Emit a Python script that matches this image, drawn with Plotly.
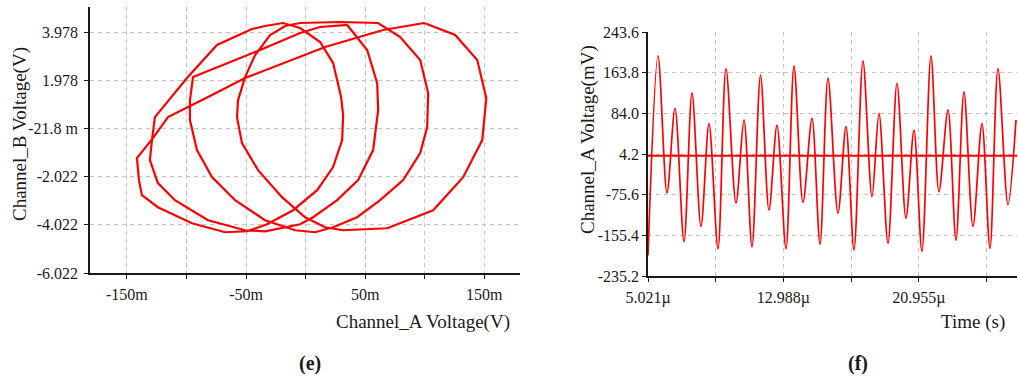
import plotly.graph_objects as go

# ---------------- Panel (e): Channel_B vs Channel_A (X-Y trace) ----------------
chan_a_v = [0.0996, 0.0651, 0.0164, -0.0508, -0.0819, -0.1155, -0.1282, -0.1416,
            -0.1399, -0.1374, -0.1240, -0.0954, -0.0676, -0.0492,
            -0.0324, -0.0105, 0.0097, 0.0231, 0.0307, 0.0315, 0.0298, 0.0231,
            0.0122, -0.0046, -0.0189,
            -0.0340, -0.0450, -0.0744, -0.0996, -0.1265,
            -0.1290, -0.1307, -0.1240, -0.1097, -0.0819, -0.0508, -0.0340,
            -0.0046, 0.0063, 0.0265, 0.0441, 0.0567, 0.0609, 0.0601, 0.0517, 0.0349,
            0.0122, -0.0046, -0.0382, -0.0735, -0.0945,
            -0.0971, -0.0971, -0.0912, -0.0786, -0.0592, -0.0340, -0.0088, 0.0080,
            0.0231, 0.0433, 0.0626, 0.0819, 0.0962, 0.1021, 0.1029, 0.0962, 0.0794, 0.0609,
            0.0290, -0.0046, -0.0172,
            -0.0298, -0.0424, -0.0508, -0.0567, -0.0576, -0.0534, -0.0399, -0.0198,
            -0.0004, 0.0164, 0.0315,
            0.0685, 0.1071, 0.1323, 0.1483, 0.1517, 0.1441, 0.1256, 0.0996]
chan_b_v = [4.365, 4.074, 3.367, 2.078, 1.288, 0.456, -0.417, -1.249,
            -2.164, -2.788, -3.288, -3.954, -4.329, -4.288,
            -3.996, -3.413, -2.580, -1.623, -0.500, 0.540, 1.288, 2.701,
            3.575, 4.157, 4.365,
            4.240, 4.115, 3.450, 2.078, 0.456,
            -0.500, -1.332, -2.289, -2.996, -3.829, -4.246, -4.288,
            -3.996, -3.704, -2.996, -2.164, -0.916, 0.747, 1.870, 3.242, 4.282,
            4.198, 3.949, 3.242, 2.535, 2.119,
            1.163, 0.331, -0.916, -2.039, -2.996, -3.829, -4.246, -4.329,
            -4.121, -3.704, -2.996, -2.164, -1.041, 0.040, 1.454, 2.826, 3.783, 4.365,
            4.406, 4.365, 4.240,
            3.866, 3.034, 2.119, 1.163, 0.456, -0.625, -1.748, -2.871,
            -3.704, -4.121, -4.246,
            -4.163, -3.413, -2.039, -0.500, 1.246, 2.826, 3.866, 4.365]

e_xticks = [-0.15, -0.10, -0.05, 0.0, 0.05, 0.10, 0.15]
e_xtext = ["-150m", "", "-50m", "", "50m", "", "150m"]
e_yticks = [3.978, 1.978, -0.0218, -2.022, -4.022, -6.022]
e_ytext = ["3.978", "1.978", "-21.8 m", "-2.022", "-4.022", "-6.022"]

# ---------------- Panel (f): Channel_A voltage vs time ----------------
time_us = [5.021, 5.609, 6.138, 6.609, 7.138, 7.608, 8.137, 8.608, 9.137, 9.607,
           10.195, 10.666, 11.136, 11.636, 12.136, 12.606, 13.135, 13.606, 14.135,
           14.664, 15.135, 15.605, 16.193, 16.663, 17.134, 17.663, 18.192, 18.604,
           19.133, 19.662, 20.191, 20.662, 21.13, 21.661, 22.132, 22.661, 23.131,
           23.602, 24.131, 24.660, 25.130, 25.601, 26.189, 26.66]
chan_a_mv = [-195, 197, -72, 94, -168, 124, -138, 64, -182, 172,
             -92, 71, -178, 159, -106, 61, -182, 177, -91,
             74, -173, 153, -112, 58, -184, 187, -80, 84,
             -171, 143, -122, 51, -187, 197, -70, 91, -165,
             126, -138, 64, -181, 172, -95, 71]
baseline_mv = 0.8
time_end_us = 26.72

f_xticks = [5.021, 9.0045, 12.988, 16.9715, 20.955, 24.9385]
f_xtext = ["5.021\u00b5", "", "12.988\u00b5", "", "20.955\u00b5", ""]
f_yticks = [243.6, 163.8, 84.0, 4.2, -75.6, -155.4, -235.2]
f_ytext = ["243.6", "163.8", "84.0", "4.2", "-75.6", "-155.4", "-235.2"]

RED = "#ff0000"
INK = "#1a1a1a"
GRID = "#c4c4c4"
FONT = "Liberation Serif, Times New Roman, serif"
W, H = 1018, 378

fig = go.Figure()
fig.add_trace(go.Scatter(x=chan_a_v, y=chan_b_v, mode="lines",
                         line=dict(color=RED, width=2.2),
                         xaxis="x", yaxis="y", showlegend=False))
fig.add_trace(go.Scatter(x=time_us, y=chan_a_mv, mode="lines",
                         line=dict(color=RED, width=1.7, shape="spline", smoothing=0.9),
                         xaxis="x2", yaxis="y2", showlegend=False))
fig.add_trace(go.Scatter(x=[min(time_us), time_end_us], y=[baseline_mv, baseline_mv], mode="lines",
                         line=dict(color=RED, width=2),
                         xaxis="x2", yaxis="y2", showlegend=False))

axis_common = dict(showline=True, linecolor=INK, linewidth=1.6, ticks="outside",
                   ticklen=4, tickcolor=INK, showgrid=True, gridcolor=GRID,
                   griddash="4px,4px", gridwidth=1, zeroline=False, automargin=False,
                   tickfont=dict(family=FONT, size=16, color=INK), tickmode="array")

fig.update_layout(
    width=W, height=H, margin=dict(l=0, r=0, t=0, b=0, autoexpand=False),
    paper_bgcolor="white", plot_bgcolor="white",
    xaxis=dict(domain=[90 / W, 520 / W], range=[-0.181, 0.180], anchor="y",
               tickvals=e_xticks, ticktext=e_xtext, ticklabelstandoff=2, **axis_common),
    yaxis=dict(domain=[1 - 273 / H, 1 - 7 / H], range=[-6.022, 5.03], anchor="x",
               tickvals=e_yticks, ticktext=e_ytext, ticklabelstandoff=3, **axis_common),
    xaxis2=dict(domain=[648 / W, 1017 / W], range=[5.021, time_end_us], anchor="y2",
                tickvals=f_xticks, ticktext=f_xtext, ticklabelstandoff=2, **axis_common),
    yaxis2=dict(domain=[1 - 276 / H, 1 - 32 / H], range=[-235.2, 243.6], anchor="x2",
                tickvals=f_yticks, ticktext=f_ytext, ticklabelstandoff=0, **axis_common),
)

title_font = dict(family=FONT, size=19, color=INK)
ann = [
    dict(text="Channel_A Voltage(V)", x=512 / W, y=1 - 322 / H, xanchor="right", yanchor="middle", font=title_font),
    dict(text="Channel_B Voltage(V)", x=20 / W, y=1 - 134 / H, xanchor="center", yanchor="middle", textangle=-90, font=title_font),
    dict(text="Channel_A Voltage(mV)", x=588 / W, y=1 - 140 / H, xanchor="center", yanchor="middle", textangle=-90, font=title_font),
    dict(text="Time (s)", x=973 / W, y=1 - 322 / H, xanchor="center", yanchor="middle", font=title_font),
    dict(text="<b>(e)</b>", x=310 / W, y=1 - 363 / H, xanchor="center", yanchor="middle", font=dict(family=FONT, size=20, color=INK)),
    dict(text="<b>(f)</b>", x=858 / W, y=1 - 363 / H, xanchor="center", yanchor="middle", font=dict(family=FONT, size=20, color=INK)),
]
for a in ann:
    fig.add_annotation(xref="paper", yref="paper", showarrow=False, **a)

fig.write_html("out.html")
